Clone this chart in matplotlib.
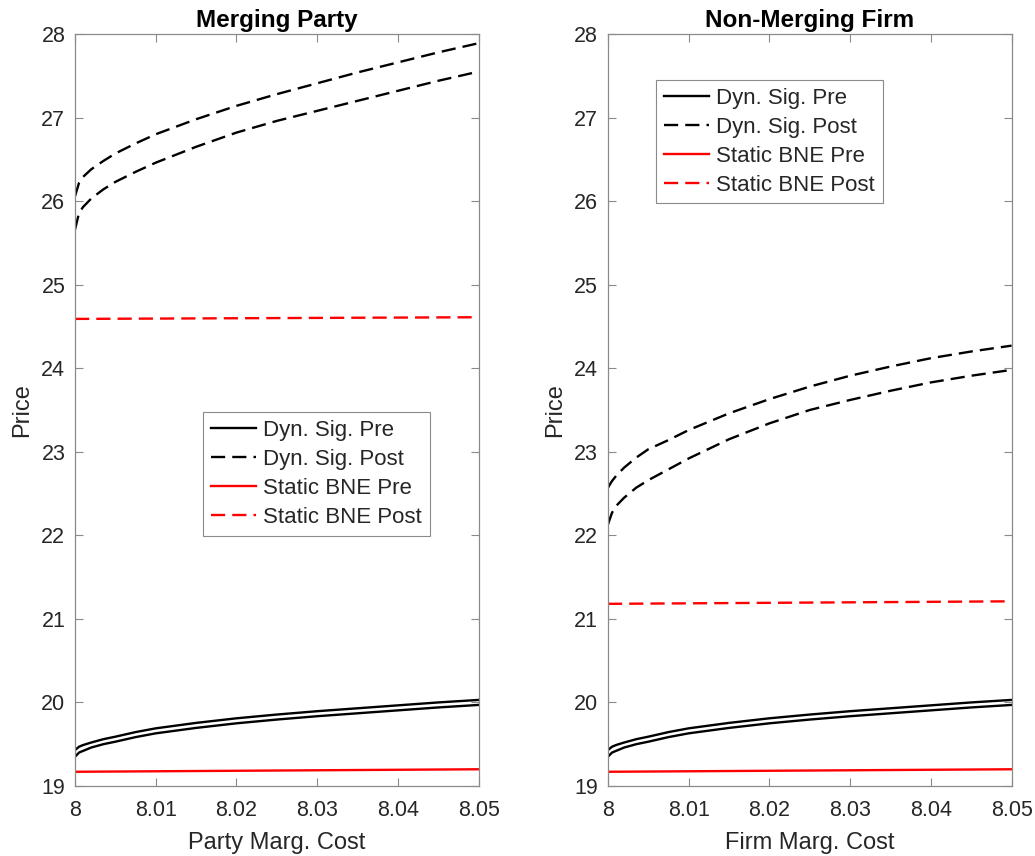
import matplotlib
matplotlib.use("Agg")
import matplotlib.pyplot as plt

plt.rcParams['font.family'] = ['Liberation Sans', 'DejaVu Sans']

# marginal cost grid
cost = [8.0, 8.0005, 8.001, 8.002, 8.0035, 8.005, 8.0075, 8.01, 8.015,
        8.02, 8.025, 8.03, 8.035, 8.04, 8.045, 8.05]
cost_flat = [8.0, 8.025, 8.05]

# dynamic signalling, two firm types per case
dyn_pre_hi = [19.43, 19.47, 19.49, 19.52, 19.56, 19.59, 19.645, 19.69, 19.755,
              19.81, 19.855, 19.895, 19.93, 19.965, 20.00, 20.03]
dyn_pre_lo = [19.35, 19.40, 19.42, 19.46, 19.50, 19.53, 19.585, 19.63, 19.695,
              19.75, 19.795, 19.835, 19.87, 19.905, 19.94, 19.97]

party_post_hi = [26.06, 26.22, 26.29, 26.38, 26.48, 26.57, 26.69, 26.80, 26.98,
                 27.14, 27.28, 27.41, 27.54, 27.66, 27.78, 27.89]
party_post_lo = [25.66, 25.86, 25.93, 26.03, 26.14, 26.23, 26.35, 26.46, 26.65,
                 26.82, 26.96, 27.08, 27.20, 27.32, 27.44, 27.55]

firm_post_hi = [22.57, 22.65, 22.71, 22.81, 22.93, 23.03, 23.14, 23.26, 23.46,
                23.63, 23.78, 23.91, 24.02, 24.12, 24.20, 24.27]
firm_post_lo = [22.13, 22.27, 22.35, 22.45, 22.57, 22.66, 22.79, 22.92, 23.15,
                23.34, 23.50, 23.62, 23.73, 23.83, 23.91, 23.98]

# static Bayesian Nash equilibrium
bne_pre = [19.17, 19.185, 19.20]
party_bne_post = [24.59, 24.60, 24.61]
firm_bne_post = [21.18, 21.195, 21.21]

xticks = [8.0, 8.01, 8.02, 8.03, 8.04, 8.05]
xticklabels = ['8', '8.01', '8.02', '8.03', '8.04', '8.05']
yticks = [19, 20, 21, 22, 23, 24, 25, 26, 27, 28]

txt = '#262626'
edge = '#8a8a8a'
dash = (6, 3)
lw = 1.7

fig = plt.figure(figsize=(10.35, 8.56), dpi=100)
ax1 = fig.add_axes([0.0725, 0.0818, 0.390, 0.8785])
ax2 = fig.add_axes([0.5874, 0.0818, 0.390, 0.8785])

panels = [
    (ax1, 'Merging Party', 'Party Marg. Cost', party_post_hi, party_post_lo,
     party_bne_post, (0.317, 0.497)),
    (ax2, 'Non-Merging Firm', 'Firm Marg. Cost', firm_post_hi, firm_post_lo,
     firm_bne_post, (0.119, 0.939)),
]

for ax, title, xlabel, post_hi, post_lo, bne_post, leg_pos in panels:
    h1, = ax.plot(cost, dyn_pre_hi, color='black', lw=lw, label='Dyn. Sig. Pre')
    ax.plot(cost, dyn_pre_lo, color='black', lw=lw)
    h2, = ax.plot(cost, post_hi, color='black', lw=lw, dashes=dash,
                  label='Dyn. Sig. Post')
    ax.plot(cost, post_lo, color='black', lw=lw, dashes=dash)
    h3, = ax.plot(cost_flat, bne_pre, color='red', lw=lw, label='Static BNE Pre')
    h4, = ax.plot(cost_flat, bne_post, color='red', lw=lw, dashes=dash,
                  label='Static BNE Post')

    ax.set_xlim(8.0, 8.05)
    ax.set_ylim(19, 28)
    ax.set_xticks(xticks)
    ax.set_xticklabels(xticklabels)
    ax.set_yticks(yticks)
    ax.tick_params(direction='in', top=True, right=True, length=6,
                   width=0.8, color=edge, labelcolor=txt, labelsize=15.5)
    ax.tick_params(axis='x', pad=10)
    ax.tick_params(axis='y', pad=7)
    for s in ax.spines.values():
        s.set_color(edge)
        s.set_linewidth(0.9)
    ax.set_title(title, fontsize=17.5, fontweight='bold', color='black', pad=5)
    ax.set_xlabel(xlabel, fontsize=17, color=txt, labelpad=8)
    ax.set_ylabel('Price', fontsize=17, color=txt, labelpad=6)

    leg = ax.legend(handles=[h1, h2, h3, h4], loc='upper left',
                    bbox_to_anchor=leg_pos, fontsize=16, frameon=True,
                    fancybox=False, framealpha=1, edgecolor=edge,
                    handlelength=2.05, handletextpad=0.3, labelspacing=0.36,
                    borderpad=0.35, borderaxespad=0)
    leg.get_frame().set_linewidth(0.8)
    for t in leg.get_texts():
        t.set_color(txt)

fig.savefig('out.png', dpi=100)
